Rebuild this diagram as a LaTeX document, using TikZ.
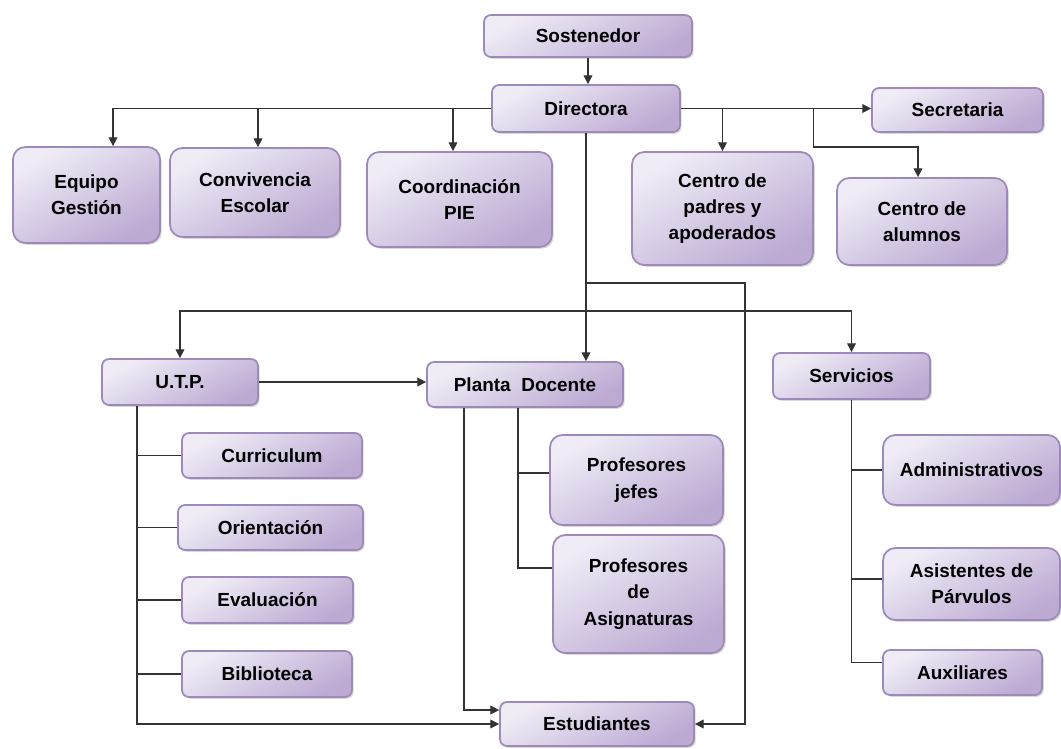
\documentclass[tikz,border=0pt]{standalone}
\usepackage{fontspec}
\setmainfont{Liberation Sans}
\usetikzlibrary{arrows.meta,shadows}

\definecolor{boxlight}{RGB}{240,236,246}
\definecolor{boxdark}{RGB}{188,170,211}
\definecolor{boxedge}{RGB}{158,138,186}

\begin{document}
\begin{tikzpicture}[
    x=0.02cm, y=-0.02cm,
    >={Triangle[length=5pt,width=5pt]},
    box/.style={rectangle, draw=boxedge, line width=1pt, top color=boxlight, bottom color=boxdark, shading angle=30, rounded corners=4pt, inner sep=0pt, align=center, font=\fontsize{10.8}{15}\selectfont\bfseries, drop shadow={shadow xshift=1pt, shadow yshift=-1pt, opacity=0.3}},
    bigbox/.style={box, rounded corners=7pt},
    link/.style={draw=black!80, line width=0.6pt}
]
\useasboundingbox (0,0) rectangle (1061,748);

% Top level
\node[box, minimum width=4.16cm, minimum height=0.84cm] (sost) at (588,36) {Sostenedor};
\node[box, minimum width=3.76cm, minimum height=0.94cm] (dir) at (586,108.5) {Directora};
\node[box, minimum width=3.42cm, minimum height=0.88cm] (secr) at (957.5,110) {Secretaria};

% Directora staff
\node[bigbox, minimum width=2.94cm, minimum height=1.92cm] (equipo) at (86.5,195) {Equipo\\Gestión};
\node[bigbox, minimum width=3.4cm, minimum height=1.78cm] (conv) at (255,192.5) {Convivencia\\Escolar};
\node[bigbox, minimum width=3.7cm, minimum height=1.9cm] (coord) at (459.5,199.5) {Coordinación\\PIE};
\node[bigbox, minimum width=3.62cm, minimum height=2.26cm] (padres) at (722.5,208.5) {Centro de\\padres y\\apoderados};
\node[bigbox, minimum width=3.4cm, minimum height=1.74cm] (alumnos) at (922,221.5) {Centro de\\alumnos};

% Middle level
\node[box, minimum width=3.12cm, minimum height=0.92cm] (utp) at (180,382) {U.T.P.};
\node[box, minimum width=3.92cm, minimum height=0.9cm] (planta) at (525,384.5) {Planta\ \ Docente};
\node[box, minimum width=3.14cm, minimum height=0.92cm] (serv) at (851.5,376) {Servicios};

% U.T.P. units
\node[box, minimum width=3.6cm, minimum height=0.9cm] (curr) at (272,455.5) {Curriculum};
\node[box, minimum width=3.7cm, minimum height=0.9cm] (orient) at (270.5,527.5) {Orientación};
\node[box, minimum width=3.42cm, minimum height=0.92cm] (eval) at (267.5,600) {Evaluación};
\node[box, minimum width=3.4cm, minimum height=0.92cm] (bibl) at (267,674) {Biblioteca};

% Planta docente
\node[bigbox, minimum width=3.46cm, minimum height=1.8cm] (jefes) at (636.5,480) {Profesores\\jefes};
\node[bigbox, minimum width=3.42cm, minimum height=2.36cm] (asig) at (638.5,594) {Profesores\\de\\Asignaturas};
\node[box, minimum width=3.88cm, minimum height=0.88cm] (estud) at (597,724) {Estudiantes};

% Servicios
\node[bigbox, minimum width=3.54cm, minimum height=1.4cm] (admin) at (971.5,470) {Administrativos};
\node[bigbox, minimum width=3.54cm, minimum height=1.44cm] (asist) at (971.5,584) {Asistentes de\\Párvulos};
\node[box, minimum width=3.18cm, minimum height=0.9cm] (aux) at (962.5,672.5) {Auxiliares};

% Sostenedor to Directora
\draw[link, ->] (sost.south) -- (sost.south |- dir.north);

% Directora to staff
\coordinate (kAlum) at (918,147);
\draw[link, ->] (dir.west) -| ([xshift=0.53cm]equipo.north);
\draw[link, ->] ([xshift=0.06cm]conv.north |- dir.west) -- ([xshift=0.06cm]conv.north);
\draw[link, ->] ([xshift=-0.13cm]coord.north |- dir.west) -- ([xshift=-0.13cm]coord.north);
\draw[link, ->] (dir.east) -- (dir.east -| secr.west);
\draw[link, ->] (padres.north |- dir.east) -- (padres.north);
\draw[link, ->] (padres.east |- dir.east) |- (kAlum) -- (kAlum |- alumnos.north);

% Directora down
\coordinate (hbus) at (586,311);
\coordinate (rdrop) at (745,283);
\draw[link, ->] (dir.south) -- (dir.south |- planta.north);
\draw[link, <->] (utp.north) |- (hbus) -| (serv.north);
\draw[link, ->] (dir.south |- rdrop) -- (rdrop) |- (estud.east);

% U.T.P.
\coordinate (utpL) at ([xshift=-0.86cm]utp.south);
\draw[link, ->] (utp.east) -- (utp.east -| planta.west);
\draw[link, ->] (utpL) |- (estud.west);
\foreach \s in {curr,orient,eval,bibl}
    \draw[link] (utpL |- \s.west) -- (\s.west);

% Planta docente
\coordinate (plL) at ([xshift=-1.22cm]planta.south);
\coordinate (plR) at ([xshift=-0.14cm]planta.south);
\draw[link, ->] (plL) |- ([yshift=0.28cm]estud.west);
\draw[link] (plR) |- ([yshift=0.52cm]asig.west);
\draw[link] (plR) |- ([yshift=0.14cm]jefes.west);

% Servicios
\draw[link] (serv.south) |- ([yshift=0.2cm]aux.west);
\draw[link] (serv.south |- admin.west) -- (admin.west);
\draw[link] (serv.south) |- ([yshift=0.1cm]asist.west);

\end{tikzpicture}
\end{document}
